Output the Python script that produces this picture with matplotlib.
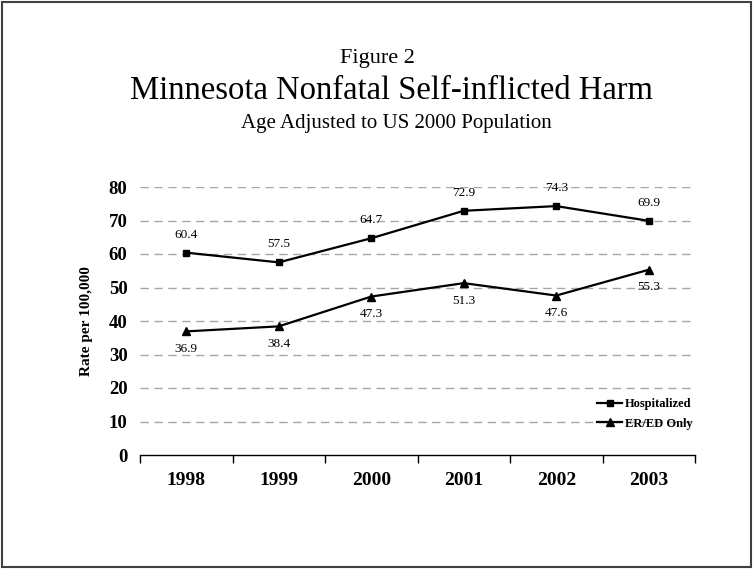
import matplotlib.pyplot as plt
from matplotlib.patches import Rectangle

# data
years = ["1998", "1999", "2000", "2001", "2002", "2003"]
hospitalized = [60.4, 57.5, 64.7, 72.9, 74.3, 69.9]
er_only = [36.9, 38.4, 47.3, 51.3, 47.6, 55.3]
y_ticks = [0, 10, 20, 30, 40, 50, 60, 70, 80]

plt.rcParams['font.family'] = ['Liberation Serif', 'DejaVu Serif']

W, H = 755, 569
fig = plt.figure(figsize=(W / 100, H / 100), dpi=100)

def px(x, y):
    # pixel (from top-left) -> figure fraction
    return x / W, 1 - y / H

# outer frame
fig.patches.append(Rectangle(px(1.5, 567), (751 - 1.5) / W, (567 - 2) / H,
                             transform=fig.transFigure, fill=False,
                             edgecolor='#404040', linewidth=1.5))

# plot area: left 140, right 695, top 187, bottom 455
ax = fig.add_axes([140 / W, 1 - 455 / H, (695 - 140) / W, (455 - 187) / H])

x = list(range(len(years)))
ax.set_xlim(-0.5, len(years) - 0.5)
ax.set_ylim(0, 80)

for v in y_ticks[1:]:
    ax.axhline(v, color='#a6a6a6', linestyle=(0, (6, 4)), linewidth=1.0, zorder=1)

l_hosp, = ax.plot(x, hospitalized, color='black', linewidth=1.6, marker='s',
                  markersize=5, zorder=3, label='Hospitalized')
l_er, = ax.plot(x, er_only, color='black', linewidth=1.6, marker='^',
                markersize=6, zorder=3, label='ER/ED Only')

for xi, v in zip(x, hospitalized):
    ax.annotate(f"{v:.1f}", (xi, v), xytext=(0, 13), textcoords='offset points',
                ha='center', va='center', fontsize=9.5)
for xi, v in zip(x, er_only):
    ax.annotate(f"{v:.1f}", (xi, v), xytext=(0, -12.5), textcoords='offset points',
                ha='center', va='center', fontsize=9.5)

for s in ['top', 'right', 'left']:
    ax.spines[s].set_visible(False)
ax.spines['bottom'].set_linewidth(1.0)

ax.set_yticks(y_ticks)
ax.set_yticklabels([str(v) for v in y_ticks], fontsize=13.5, fontweight='bold')
ax.tick_params(axis='y', length=0, pad=9)

# category boundaries carry the tick marks, year labels sit between them
ax.set_xticks([i - 0.5 for i in range(len(years) + 1)])
ax.set_xticklabels([''] * (len(years) + 1))
ax.tick_params(axis='x', length=6, direction='out', width=1.0)
ax.set_xticks(x, minor=True)
ax.set_xticklabels(years, minor=True, fontsize=14, fontweight='bold')
ax.tick_params(axis='x', which='minor', length=0, pad=12)

ax.set_ylabel("Rate per 100,000", fontsize=11, fontweight='bold')
ax.yaxis.set_label_coords((93 - 140) / 555, 0.5)

leg = fig.legend(handles=[l_hosp, l_er], loc='upper left',
                 bbox_to_anchor=px(597, 398), frameon=False,
                 prop={'size': 9, 'weight': 'bold'}, handlelength=2.0,
                 handletextpad=0.25, borderpad=0, borderaxespad=0,
                 labelspacing=0.6, markerscale=0.9)

fig.text(*px(377, 63), "Figure 2", ha='center', va='baseline', fontsize=16)
fig.text(*px(392, 99), "Minnesota Nonfatal Self-inflicted Harm", ha='center',
         va='baseline', fontsize=23.5)
fig.text(*px(396, 128), "Age Adjusted to US 2000 Population", ha='center',
         va='baseline', fontsize=15)

fig.savefig("out.png", dpi=100)
